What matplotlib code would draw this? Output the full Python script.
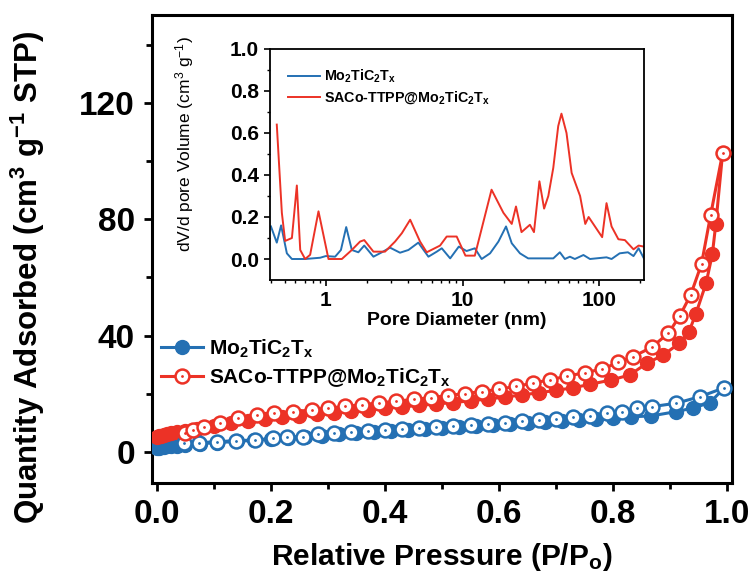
import numpy as np
import matplotlib
matplotlib.use('Agg')
from matplotlib import pyplot as plt

plt.rcParams['font.family'] = ['Liberation Sans', 'DejaVu Sans']
plt.rcParams['mathtext.fontset'] = 'custom'
plt.rcParams['mathtext.rm'] = 'Liberation Sans'
plt.rcParams['mathtext.bf'] = 'Liberation Sans:bold'
plt.rcParams['mathtext.default'] = 'bf'

blue = '#2470b3'
red = '#ec3226'

# N2 isotherm, Mo2TiC2Tx
mo_ads_p = [0.001, 0.004, 0.008, 0.012, 0.018, 0.025, 0.035, 0.05, 0.075, 0.105, 0.14, 0.17,
            0.2, 0.23, 0.26, 0.29, 0.32, 0.35, 0.38, 0.41, 0.44, 0.47, 0.5, 0.53, 0.56,
            0.59, 0.62, 0.65, 0.68, 0.71, 0.74, 0.77, 0.80, 0.832, 0.867, 0.911, 0.94,
            0.97, 0.995]
mo_ads_v = [1.2, 1.4, 1.6, 1.7, 1.8, 1.9, 2.0, 2.3, 2.7, 3.1, 3.5, 3.9,
            4.3, 4.7, 5.1, 5.5, 5.9, 6.3, 6.6, 7.0, 7.3, 7.7, 8.0, 8.4, 8.8,
            9.1, 9.5, 9.9, 10.2, 10.6, 10.9, 11.2, 11.5, 12.0, 12.3, 13.8, 15.0,
            16.9, 22.0]
mo_des_p = [0.047, 0.074, 0.106, 0.139, 0.172, 0.204, 0.228, 0.257, 0.283, 0.31, 0.34,
            0.37, 0.40, 0.43, 0.46, 0.49, 0.52, 0.55, 0.58, 0.61, 0.64, 0.67, 0.70,
            0.73, 0.76, 0.789, 0.815, 0.842, 0.869, 0.911, 0.952, 0.995]
mo_des_v = [3.1, 3.1, 3.4, 3.8, 4.0, 4.6, 5.0, 5.2, 6.0, 6.3, 6.7,
            7.0, 7.4, 7.8, 8.1, 8.5, 8.8, 9.2, 9.6, 10.0, 10.4, 10.8, 11.3,
            11.8, 12.4, 13.2, 13.8, 15.0, 15.5, 16.7, 18.9, 22.0]

# N2 isotherm, SACo-TTPP@Mo2TiC2Tx
co_ads_p = [0.001, 0.004, 0.008, 0.012, 0.018, 0.025, 0.035, 0.05, 0.07, 0.1, 0.13, 0.16,
            0.19, 0.22, 0.25, 0.28, 0.31, 0.34, 0.37, 0.40, 0.43, 0.46, 0.49, 0.52,
            0.55, 0.58, 0.61, 0.64, 0.67, 0.70, 0.73, 0.76, 0.797, 0.829, 0.859,
            0.888, 0.916, 0.933, 0.945, 0.963, 0.974, 0.980, 0.992]
co_ads_v = [5.0, 5.3, 5.5, 5.8, 6.0, 6.3, 6.6, 7.0, 7.8, 8.8, 9.8, 10.6,
            11.3, 11.9, 12.4, 12.9, 13.4, 13.9, 14.4, 14.9, 15.4, 15.9, 16.4, 16.9,
            17.5, 18.1, 18.8, 19.5, 20.3, 21.1, 22.0, 23.2, 24.7, 26.4, 30.4,
            33.3, 37.3, 41.3, 47.4, 58.0, 68.0, 78.3, 102.8]
co_des_p = [0.05, 0.064, 0.083, 0.11, 0.143, 0.175, 0.206, 0.238, 0.272, 0.30, 0.33,
            0.36, 0.39, 0.42, 0.45, 0.48, 0.51, 0.54, 0.57, 0.60, 0.63, 0.66, 0.69,
            0.72, 0.75, 0.78, 0.809, 0.835, 0.868, 0.897, 0.917, 0.936, 0.955,
            0.971, 0.992]
co_des_v = [6.3, 7.5, 8.6, 10.0, 11.5, 12.6, 13.2, 13.7, 14.4, 15.0, 15.6,
            16.2, 16.8, 17.4, 18.0, 18.6, 19.3, 20.0, 20.7, 21.5, 22.5, 23.6, 24.8,
            26.0, 27.2, 28.4, 30.7, 32.7, 36.0, 40.8, 46.8, 54.0, 64.6,
            81.5, 102.8]

# pore size distribution (inset)
psd_mo_d = [0.397, 0.438, 0.471, 0.519, 0.565, 0.706, 0.909, 1.0, 1.17, 1.29, 1.41, 1.55,
            1.73, 1.91, 2.23, 2.57, 2.95, 3.49, 4.02, 4.75, 5.63, 6.48, 7.05, 8.12,
            9.39, 10.7, 12.3, 13.8, 15.9, 18.3, 20.8, 22.9, 26.3, 30.2, 36.8, 46.1,
            51.5, 56.0, 61.0, 66.3, 76.6, 85.5, 113, 123, 141, 162, 178, 194, 212]
psd_mo_v = [0.155, 0.078, 0.16, 0.027, 0.0, 0.0, 0.006, 0.014, 0.011, 0.043, 0.152, 0.043,
            0.032, 0.064, 0.011, 0.032, 0.054, 0.03, 0.043, 0.078, 0.011, 0.035, 0.051, 0.003,
            0.059, 0.038, 0.051, 0.0, 0.027, 0.083, 0.155, 0.075, 0.027, 0.003, 0.003, 0.003,
            0.032, 0.0, 0.011, 0.0, 0.019, 0.0, 0.008, 0.0, 0.027, 0.032, 0.014, 0.051, 0.003]
psd_co_d = [0.438, 0.477, 0.504, 0.565, 0.614, 0.65, 0.706, 0.768, 0.884, 1.046, 1.31, 1.55,
            1.78, 1.91, 2.23, 2.71, 3.21, 3.6, 4.14, 4.89, 5.47, 6.85, 7.66, 9.06,
            10.5, 12.3, 16.3, 19.9, 22.9, 24.6, 27.0, 31.1, 33.3, 36.5, 39.5, 42.4,
            46.1, 50.1, 52.9, 57.6, 62.8, 72.4, 79.0, 83.6, 93, 105, 113, 123, 138,
            154, 178, 194, 212]
psd_co_v = [0.64, 0.22, 0.086, 0.1, 0.35, 0.043, 0.0, 0.02, 0.227, 0.0, 0.0, 0.043,
            0.083, 0.09, 0.035, 0.035, 0.083, 0.123, 0.187, 0.083, 0.032, 0.064, 0.107, 0.107,
            0.016, 0.016, 0.33, 0.22, 0.167, 0.25, 0.128, 0.163, 0.128, 0.37, 0.24, 0.30,
            0.434, 0.633, 0.692, 0.60, 0.41, 0.30, 0.167, 0.20, 0.155, 0.104, 0.266, 0.155, 0.094,
            0.09, 0.046, 0.064, 0.059]

fig = plt.figure(figsize=(7.56, 5.88), dpi=100)
ax = fig.add_axes([0.2007, 0.1791, 0.7672, 0.7954])

ms = 10
lw = 2.2
ax.plot(mo_ads_p, mo_ads_v, '-o', color=blue, lw=lw, ms=ms, mec=blue, mfc=blue, zorder=3)
ax.plot(co_ads_p, co_ads_v, '-o', color=red, lw=lw, ms=ms, mec=red, mfc=red, zorder=3)
ax.plot(mo_des_p, mo_des_v, '-o', color=blue, lw=lw, ms=ms, mec=blue, mfc='white', mew=1.8, zorder=4)
ax.plot(mo_des_p, mo_des_v, '.', color=blue, ms=2, zorder=5)
ax.plot(co_des_p, co_des_v, '-o', color=red, lw=lw, ms=ms, mec=red, mfc='white', mew=1.8, zorder=4)
ax.plot(co_des_p, co_des_v, '.', color=red, ms=2, zorder=5)

ax.set_xlim(-0.009, 1.008)
ax.set_ylim(-10.7, 150.4)
ax.set_xticks([0.0, 0.2, 0.4, 0.6, 0.8, 1.0])
ax.set_xticks([0.1, 0.3, 0.5, 0.7, 0.9], minor=True)
ax.set_yticks([0, 40, 80, 120])
ax.set_yticks([20, 60, 100, 140], minor=True)
ax.xaxis.set_major_formatter(plt.FormatStrFormatter('%.1f'))
ax.tick_params(which='major', direction='out', length=6, width=2, labelsize=24, pad=6)
ax.tick_params(which='minor', direction='out', length=4, width=2)
for lab in ax.get_xticklabels() + ax.get_yticklabels():
    lab.set_fontweight('bold')
for s in ax.spines.values():
    s.set_linewidth(2.2)
ax.set_xlabel('Relative Pressure (P/P$_{o}$)', fontsize=21.5, fontweight='bold', labelpad=8)
ax.set_ylabel('Quantity Adsorbed (cm$^{3}$ g$^{-1}$ STP)', fontsize=22.5, fontweight='bold')
ax.yaxis.set_label_coords(-0.18, 0.438)

h1, = ax.plot([], [], '-o', color=blue, lw=lw, ms=ms, mfc=blue)
h2, = ax.plot([], [], '-o', color=red, lw=lw, ms=ms, mfc='white', mew=1.8)
h3, = ax.plot([], [], '.', color=red, ms=2)
ax.legend([h1, (h2, h3)], ['Mo$_{2}$TiC$_{2}$T$_{x}$', 'SACo-TTPP@Mo$_{2}$TiC$_{2}$T$_{x}$'],
          loc='upper left', bbox_to_anchor=(-0.005, 0.337), frameon=False,
          prop={'size': 15, 'weight': 'bold'}, handlelength=2.0, handletextpad=0.3,
          labelspacing=0.3, borderaxespad=0.2)

# inset
ins = fig.add_axes([0.357, 0.5238, 0.4947, 0.3929])
ins.plot(psd_mo_d, psd_mo_v, color=blue, lw=1.4, label='Mo$_{2}$TiC$_{2}$T$_{x}$')
ins.plot(psd_co_d, psd_co_v, color=red, lw=1.4, label='SACo-TTPP@Mo$_{2}$TiC$_{2}$T$_{x}$')
ins.set_xscale('log')
ins.set_xlim(0.39, 212)
ins.set_ylim(-0.1, 1.0)
ins.set_yticks([0.0, 0.2, 0.4, 0.6, 0.8, 1.0])
ins.set_yticks([0.1, 0.3, 0.5, 0.7, 0.9], minor=True)
ins.set_xticks([1, 10, 100])
ins.set_xticklabels(['1', '10', '100'])
ins.yaxis.set_major_formatter(plt.FormatStrFormatter('%.1f'))
ins.tick_params(which='major', direction='out', length=4, width=1.2, labelsize=15, pad=4)
ins.tick_params(which='minor', direction='out', length=2.5, width=1.0)
for lab in ins.get_xticklabels() + ins.get_yticklabels():
    lab.set_fontweight('bold')
for s in ins.spines.values():
    s.set_linewidth(1.3)
ins.set_xlabel('Pore Diameter (nm)', fontsize=14, fontweight='bold', labelpad=1)
ins.set_ylabel(r'dV/d pore Volume (cm$^{\mathrm{3}}$ g$^{\mathrm{-1}}$)', fontsize=12.5)
ins.yaxis.set_label_coords(-0.198, 0.589)
ins.legend(loc='upper left', frameon=False, prop={'size': 10.3, 'weight': 'bold'},
           handlelength=2.2, handletextpad=0.3, labelspacing=0.3, borderaxespad=0.9)

fig.savefig('out.png', dpi=100)
